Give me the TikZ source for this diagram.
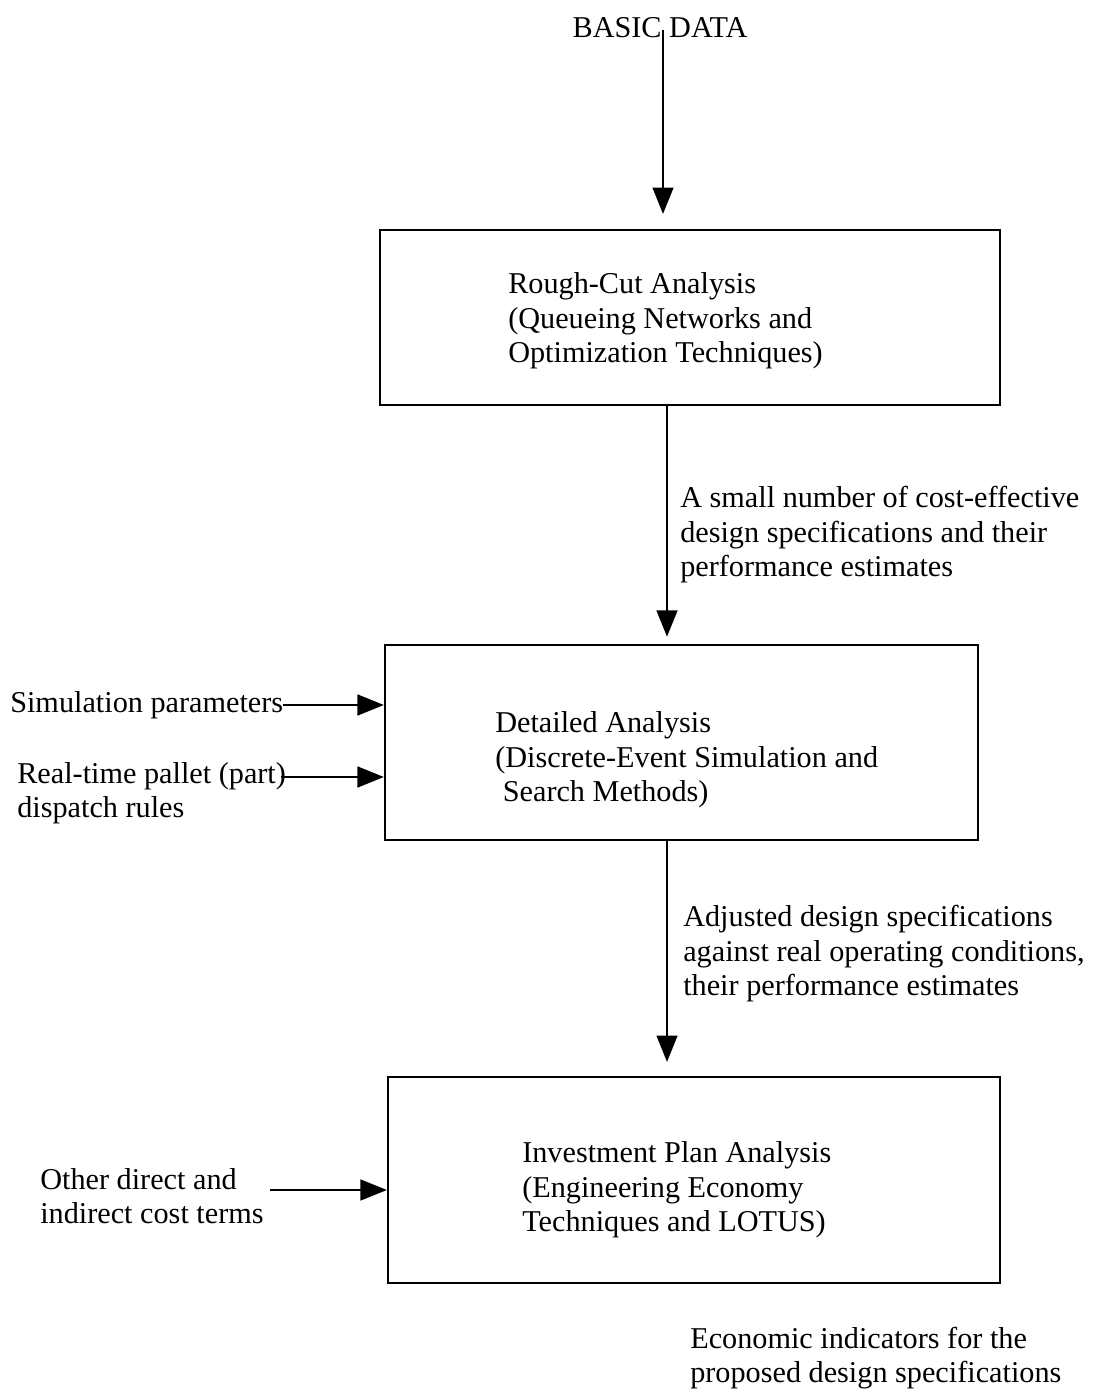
\documentclass[tikz,border=0pt]{standalone}
\usepackage{fontspec}
\setmainfont{Liberation Serif}
\usetikzlibrary{arrows.meta,calc}

\tikzset{
  flow/.style={line width=1.5pt, -{Triangle[length=0.66cm, width=0.52cm]}},
  stage/.style={draw, line width=1.5pt, minimum width=#1, inner sep=0pt},
  txt/.style={align=left, inner sep=0pt, font=\fontsize{21.5}{24.5}\selectfont},
}

\begin{document}
\begin{tikzpicture}[x=0.025cm, y=-0.025cm]
    \useasboundingbox (0,0) rectangle (1093,1392);

    % Boxes for the three stages
    \node[stage=15.5cm, minimum height=4.375cm] (rough) at (690,317.5) {};
    \node[stage=14.825cm, minimum height=4.875cm] (detail) at (681.5,742.5) {};
    \node[stage=15.3cm, minimum height=5.15cm] (invest) at (694,1180) {};

    % Texts in the boxes
    \node[txt, anchor=west] (roughtxt) at (508,321) {Rough-Cut Analysis\\(Queueing Networks and\\Optimization Techniques)};
    \node[txt, anchor=west] (detailtxt) at (495,760) {Detailed Analysis\\(Discrete-Event Simulation and\\\ Search Methods)};
    \node[txt, anchor=west] (investtxt) at (522,1190) {Investment Plan Analysis\\(Engineering Economy\\Techniques and LOTUS)};

    % Input on top
    \node[txt] (basic) at (660,28) {BASIC DATA};
    \coordinate (top) at (663,30);
    \draw[flow, shorten >=0.375cm] (top) -- (top |- rough.north);

    % Flow between the stages
    \coordinate (mid) at (667,0);
    \draw[flow, shorten >=0.18cm] (rough.south -| mid) -- (detail.north -| mid);
    \draw[flow, shorten >=0.35cm] (detail.south -| mid) -- (invest.north -| mid);

    % Labels of the flow
    \node[txt, anchor=west] (smallset) at (680,535) {A small number of cost-effective\\design specifications and their\\performance estimates};
    \node[txt, anchor=west] (adjusted) at (683,954) {Adjusted design specifications\\against real operating conditions,\\their performance estimates};
    \node[txt, anchor=west] (econ) at (690,1358) {Economic indicators for the\\proposed design specifications};

    % Side inputs
    \node[txt, anchor=west] (simpar) at (10,705) {Simulation parameters};
    \draw[flow] (simpar.east) -- (simpar.east -| detail.west);

    \node[txt, anchor=west] (dispatch) at (17,793) {Real-time pallet (part)\\dispatch rules};
    \coordinate (dispout) at (281,777);
    \draw[flow] (dispout) -- (dispout -| detail.west);

    \node[txt, anchor=west] (costs) at (40,1196) {Other direct and\\indirect cost terms};
    \coordinate (costout) at (270,1190);
    \draw[flow] (costout) -- (costout -| invest.west);
\end{tikzpicture}
\end{document}
